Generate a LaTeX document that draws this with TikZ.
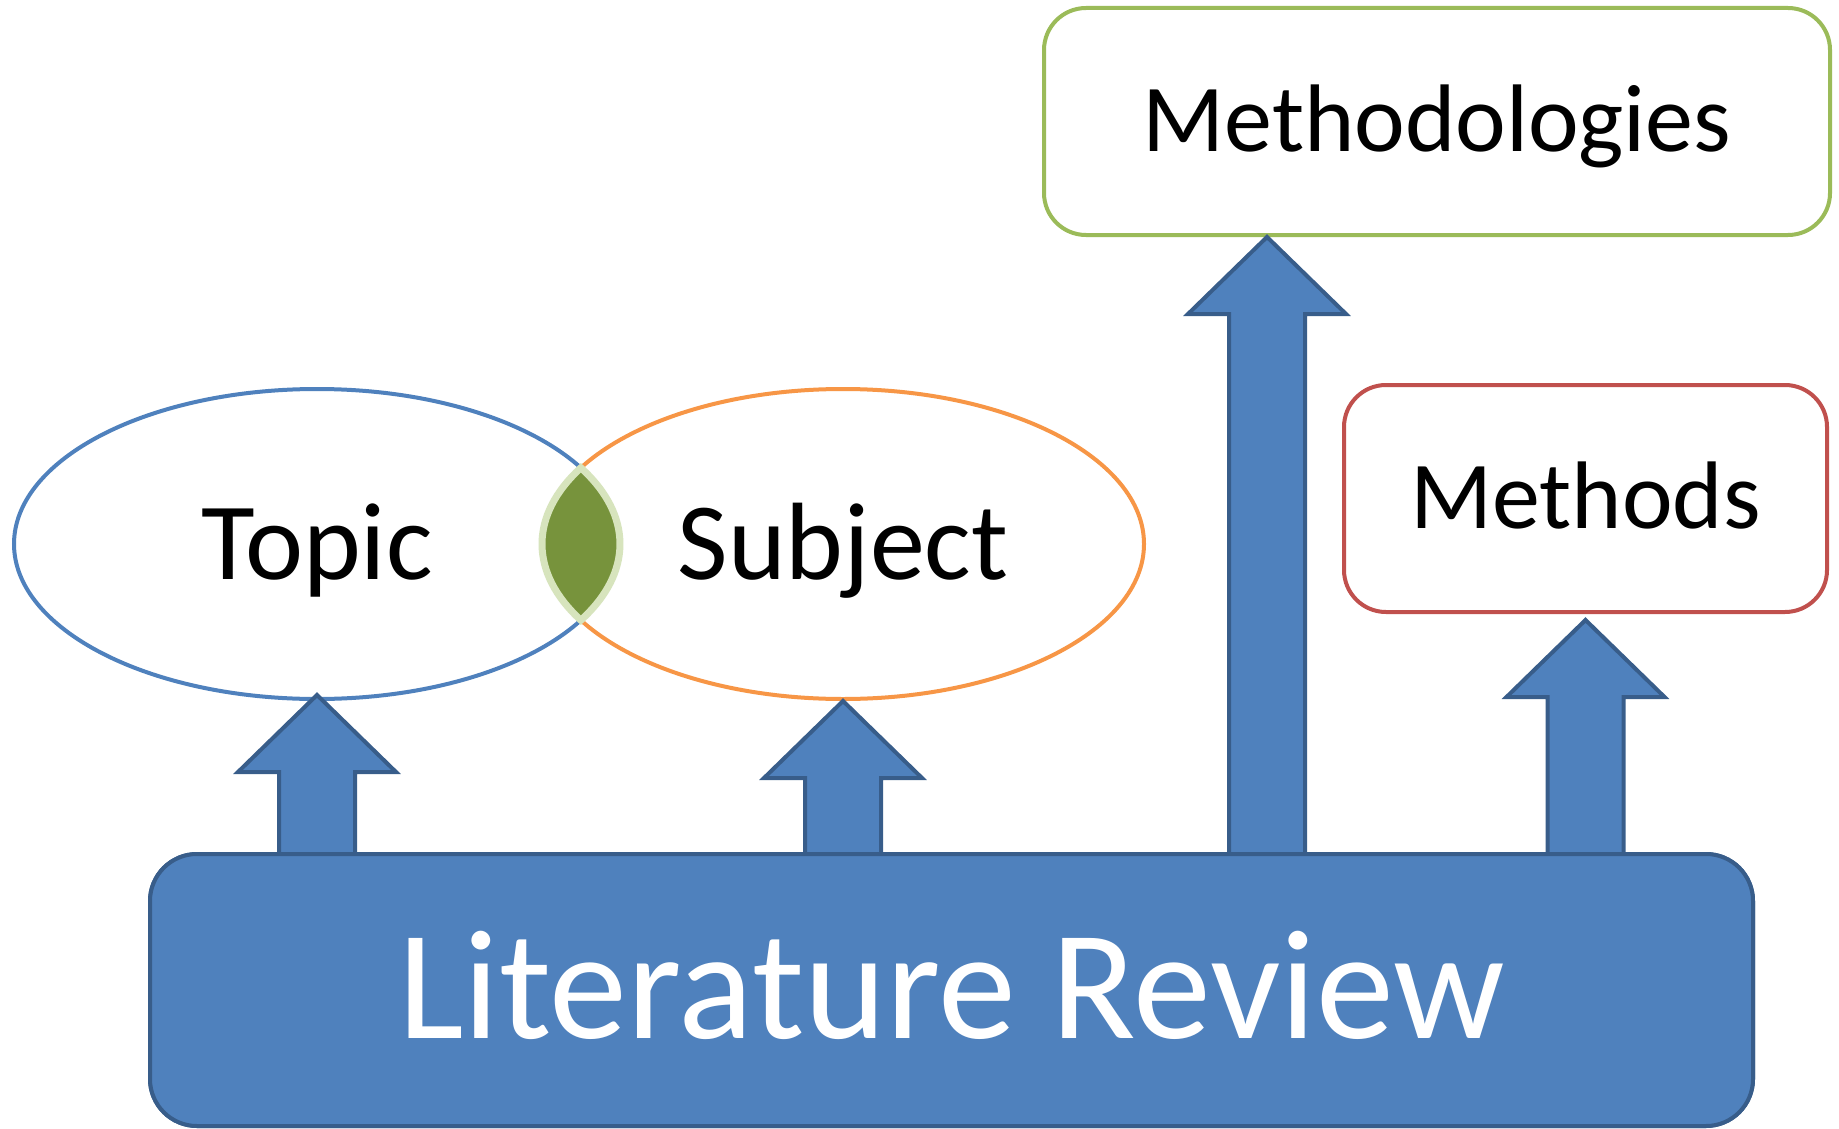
\documentclass[tikz,border=0pt]{standalone}
\usepackage{fontspec}
\setmainfont{Carlito}
\usetikzlibrary{shapes, positioning, calc}
\definecolor{reviewblue}{HTML}{4F81BD}
\definecolor{reviewedge}{HTML}{385D8A}
\definecolor{subjorange}{HTML}{F79646}
\definecolor{lensgreen}{HTML}{77933C}
\definecolor{lensedge}{HTML}{D7E4BD}
\definecolor{methgreen}{HTML}{9BBB59}
\definecolor{methred}{HTML}{C0504D}
\tikzset{
    bubble/.style={draw=#1, fill=white, ellipse, line width=4pt, minimum height=310pt,
        inner sep=0pt, text height=70pt, text depth=0pt, font=\fontsize{110}{120}\selectfont},
    topbox/.style={draw=#1, fill=white, rounded corners=42pt, line width=4pt, minimum height=227pt,
        inner sep=0pt, text height=60pt, text depth=0pt, font=\fontsize{96}{110}\selectfont},
    basebox/.style={draw=reviewedge, fill=reviewblue, rounded corners=47pt, line width=4pt,
        minimum width=1603pt, minimum height=272pt, inner sep=0pt, text=white,
        text height=97pt, text depth=0pt, font=\fontsize{156}{170}\selectfont},
    blockarrow/.style={draw=reviewedge, fill=reviewblue, line width=4pt, line join=miter}
}
% wide up arrow from a foot coordinate to a tip coordinate
\newcommand{\uparrowfrom}[2]{%
    \draw[blockarrow] ($(#1)+(-38,6)$) -- ($(#2)+(-38,77)$) -- ($(#2)+(-79,77)$) -- (#2)
        -- ($(#2)+(79,77)$) -- ($(#2)+(38,77)$) -- ($(#1)+(38,6)$) -- cycle;}

\begin{document}
\begin{tikzpicture}[x=1pt, y=-1pt]
    \useasboundingbox (0,0) rectangle (1839,1129);
    \node[bubble=reviewblue, minimum width=606pt] (topic) at (317,544) {Topic};
    \node[bubble=subjorange, minimum width=602pt] (subject) at (843,544) {Subject};
    % overlap of the two ellipses
    \path (topic.center) ++(-29.44:303 and 155) coordinate (lenstop);
    \draw[fill=lensgreen, draw=lensedge, line width=7pt] (lenstop)
        arc[start angle=-29.44, end angle=29.44, x radius=303, y radius=155]
        arc[start angle=150.56, end angle=209.44, x radius=301, y radius=155] -- cycle;
    \node[topbox=methgreen, minimum width=786pt] (methodo) at (1437,121.5) {Methodologies};
    \node[topbox=methred, minimum width=483pt] (methods) at (1585.5,498.5) {Methods};
    \node[basebox] (review) at (951.5,990) {Literature Review};
    \coordinate (t1) at ($(topic.south)+(0,-6)$);
    \coordinate (t2) at (subject.south);
    \coordinate (t3) at (methodo.south -| 1267,0);
    \coordinate (t4) at ($(methods.south)+(0,6)$);
    \foreach \i in {1,...,4}{
        \coordinate (f\i) at (review.north -| t\i);
        \uparrowfrom{f\i}{t\i}
    }
    % redraw the base so the arrow feet sit under its border
    \node[basebox] at (review.center) {Literature Review};
\end{tikzpicture}
\end{document}
